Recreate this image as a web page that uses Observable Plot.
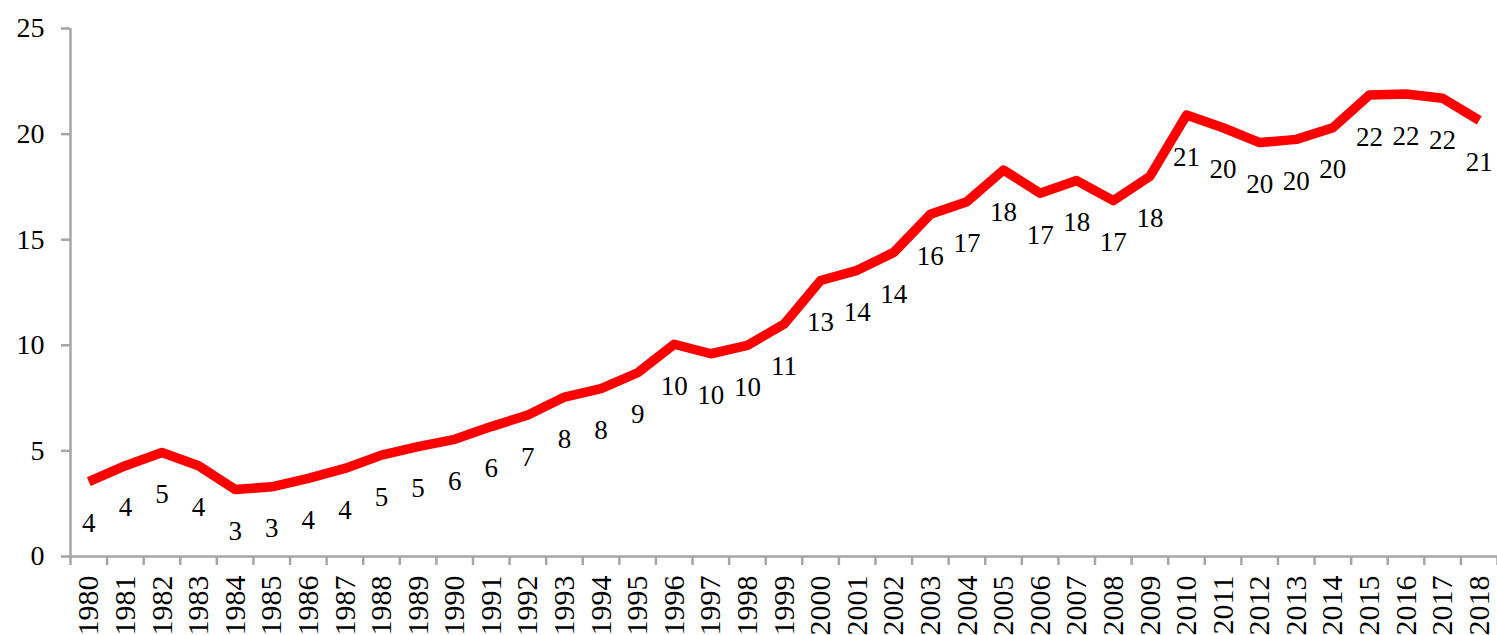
<!DOCTYPE html>
<html>
<head>
<meta charset="utf-8">
<script src="https://cdn.jsdelivr.net/npm/d3@7"></script>
<script src="https://cdn.jsdelivr.net/npm/@observablehq/plot@0.6"></script>
<style>
  html, body { margin: 0; padding: 0; background: #fff; }
</style>
</head>
<body>
<div id="chart"></div>
<script>
const years = [1980,1981,1982,1983,1984,1985,1986,1987,1988,1989,1990,1991,1992,1993,1994,1995,1996,1997,1998,1999,2000,2001,2002,2003,2004,2005,2006,2007,2008,2009,2010,2011,2012,2013,2014,2015,2016,2017,2018];
const values = [3.55,4.3,4.92,4.3,3.17,3.3,3.7,4.17,4.8,5.2,5.55,6.15,6.7,7.55,7.95,8.7,10.05,9.6,10.0,11.0,13.07,13.55,14.4,16.2,16.8,18.3,17.2,17.8,16.85,18.0,20.9,20.3,19.6,19.75,20.3,21.85,21.9,21.7,20.65];
const yTicks = [0,5,10,15,20,25];

const data = years.map((y, i) => ({year: y, value: values[i]}));
const bounds = [years[0] - 0.5, ...years.map(y => y + 0.5)];

const font = "'Liberation Serif', 'Times New Roman', serif";
const axisColor = "#a6a6a6";

const chart = Plot.plot({
  width: 1497,
  height: 635,
  marginTop: 28,
  marginBottom: 79,
  marginLeft: 70,
  marginRight: 0,
  style: {fontFamily: font, fontSize: "28px", color: "#000", background: "#fff", overflow: "hidden"},
  x: {type: "linear", domain: [years[0] - 0.5, years[years.length - 1] + 0.5]},
  y: {domain: [0, 25]},
  marks: [
    Plot.ruleY([0], {stroke: axisColor, strokeWidth: 2.5}),
    Plot.ruleX([years[0] - 0.5], {stroke: axisColor, strokeWidth: 2.5}),
    Plot.axisY({ticks: yTicks, tickSize: 9, tickPadding: 17, stroke: axisColor, strokeWidth: 2.5, fontSize: 28, label: null, fill: "#000"}),
    Plot.axisX({ticks: bounds, tickSize: 9, tickFormat: () => "", stroke: axisColor, strokeWidth: 2.5, label: null}),
    Plot.axisX({ticks: years, tickSize: 0, tickPadding: 19, tickRotate: -90, tickFormat: d => String(d), fontSize: 30, label: null, fill: "#000"}),
    Plot.line(data, {x: "year", y: "value", stroke: "#ff0000", strokeWidth: 9.5, strokeLinejoin: "round", strokeLinecap: "butt"}),
    Plot.text(data, {x: "year", y: "value", text: d => String(Math.round(d.value)), dy: 42, fontSize: 27, fill: "#000", fontFamily: font})
  ]
});
document.getElementById("chart").appendChild(chart);
</script>
</body>
</html>
